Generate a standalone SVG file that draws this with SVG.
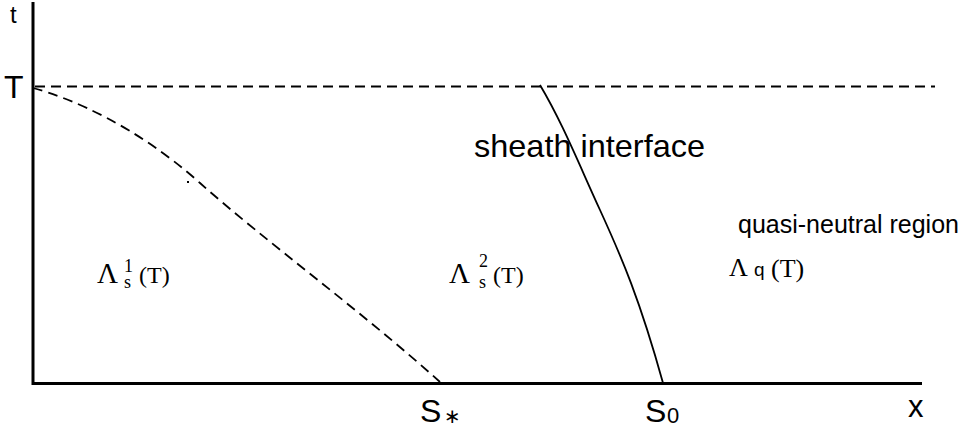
<svg xmlns="http://www.w3.org/2000/svg" width="967" height="429" viewBox="0 0 967 429">
<style>
.sans{font-family:"Liberation Sans",Arial,sans-serif;fill:#000}
.serif{font-family:"Liberation Serif","Times New Roman",serif;fill:#000}
.axis{stroke:#000;stroke-width:3;fill:none}
.dash{stroke:#000;stroke-width:1.8;fill:none;stroke-dasharray:10 6}
.solid{stroke:#000;stroke-width:1.8;fill:none}
</style>
<rect width="967" height="429" fill="#fff"/>
<g id="connectors">
  <line class="axis" x1="33" y1="2" x2="33" y2="385"/>
  <line class="axis" x1="32" y1="383.5" x2="922" y2="383.5"/>
  <line class="dash" x1="35" y1="86.5" x2="935" y2="86.5" stroke="#444" stroke-width="1.3"/>
  <path class="dash" d="M33,88 C70,98 135,125 200,183 S360,310 440,382"/>
  <path class="solid" d="M540,85 C562,122 578,162 600,210 S640,300 663,383"/>
  <rect x="187" y="181" width="2" height="2" fill="#000"/>
</g>
<g id="axis-labels">
  <text class="sans" x="10" y="23" font-size="24">t</text>
  <text class="sans" x="4" y="98" font-size="32">T</text>
  <text class="sans" x="908" y="417" font-size="31">x</text>
</g>
<g id="label-sheath">
  <text class="sans" x="474" y="157" font-size="32" textLength="231" lengthAdjust="spacingAndGlyphs">sheath interface</text>
</g>
<g id="label-quasi">
  <text class="sans" x="738" y="233" font-size="25">quasi-neutral region</text>
</g>
<g id="region-s1">
  <text class="serif" x="97" y="283" font-size="29">Λ<tspan x="124" y="272" font-size="18">1</tspan><tspan x="124" y="288" font-size="18">s</tspan><tspan x="139" y="283" font-size="24">(T)</tspan></text>
</g>
<g id="region-s2">
  <text class="serif" x="449" y="283" font-size="29">Λ<tspan x="479" y="267" font-size="18">2</tspan><tspan x="479" y="288" font-size="18">s</tspan><tspan x="493" y="283" font-size="24">(T)</tspan></text>
</g>
<g id="region-q">
  <text class="serif" x="729" y="276" font-size="26">Λ<tspan x="754" class="sans" font-size="19">q</tspan><tspan x="771" y="277">(T)</tspan></text>
</g>
<g id="label-sstar">
  <text class="sans" x="420" y="422" font-size="32">S<tspan x="444" y="423" font-size="20" font-family="DejaVu Sans, sans-serif">∗</tspan></text>
</g>
<g id="label-s0">
  <text class="sans" x="645" y="422" font-size="32">S<tspan x="667" y="423" font-size="22">0</tspan></text>
</g>
</svg>
